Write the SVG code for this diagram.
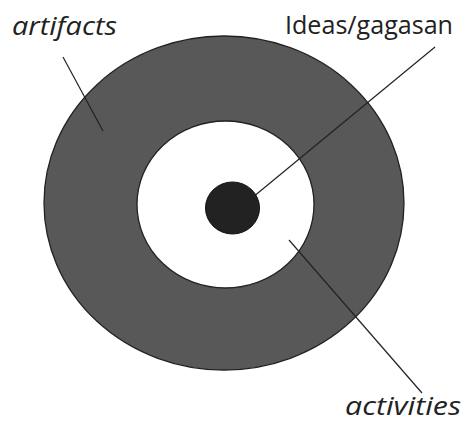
<svg xmlns="http://www.w3.org/2000/svg" width="466" height="428" viewBox="0 0 466 428">
<style>
.lbl{font-family:"Open Sans","Liberation Sans",sans-serif;font-size:25px;fill:#222}
.it{font-style:italic}
.ln{stroke:#222;stroke-width:1.2;fill:none}
</style>
<rect width="466" height="428" fill="#fff"/>
<g id="artifacts">
<ellipse cx="224" cy="203" rx="180" ry="167" fill="#585858" stroke="#222" stroke-width="1.3"/>
</g>
<g id="activities">
<ellipse cx="225.5" cy="204.5" rx="88.5" ry="83.5" fill="#fff" stroke="#222" stroke-width="1.3"/>
</g>
<g id="ideas">
<ellipse cx="232.5" cy="208" rx="27" ry="26" fill="#222" stroke="#111" stroke-width="1"/>
</g>
<g id="connectors">
<line class="ln" x1="63" y1="57" x2="103" y2="131"/>
<line class="ln" x1="247" y1="202" x2="435" y2="47"/>
<line class="ln" x1="289" y1="240" x2="422" y2="393"/>
</g>
<g id="labels">
<text class="lbl it" x="12" y="35" textLength="105" lengthAdjust="spacingAndGlyphs">artifacts</text>
<text class="lbl" x="285" y="34" textLength="168" lengthAdjust="spacingAndGlyphs">Ideas/gagasan</text>
<text class="lbl it" x="345" y="415" textLength="116" lengthAdjust="spacingAndGlyphs">activities</text>
</g>
</svg>
